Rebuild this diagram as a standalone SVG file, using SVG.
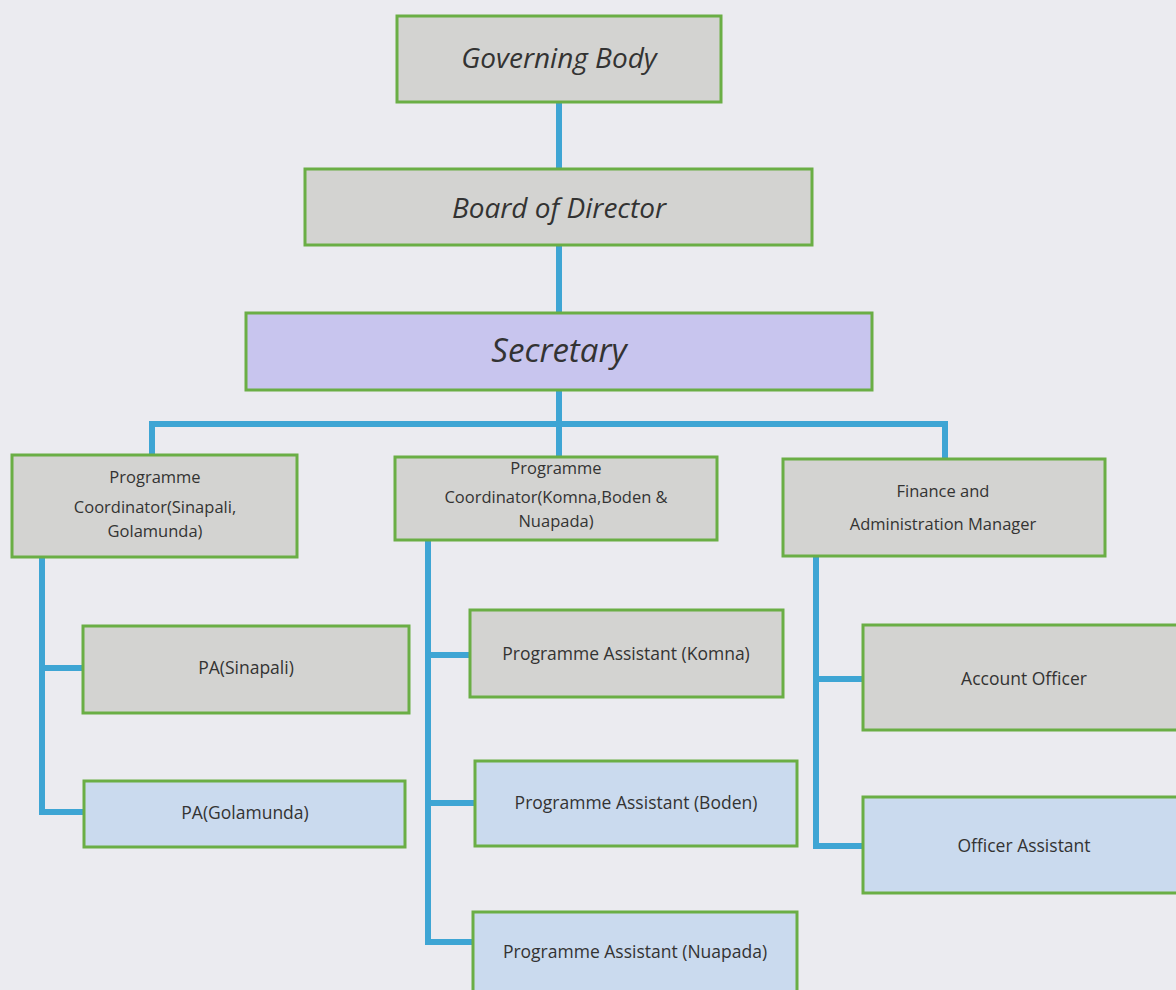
<svg xmlns="http://www.w3.org/2000/svg" width="1176" height="990" viewBox="0 0 1176 990">
<style>
.bg{fill:#ebebf0}
.box{stroke:#6aae45;stroke-width:3}
.gray{fill:#d3d3d1}
.blue{fill:#cadaee}
.lav{fill:#c8c5ee}
.conn{stroke:#3ea5d4;stroke-width:6;fill:none;stroke-linecap:square}
.t{font-family:"Open Sans","Liberation Sans",sans-serif;fill:#333;text-anchor:middle}
.big{font-size:28px;font-style:italic}
.sec{font-size:33px;font-style:italic}
.sm{font-size:17.5px}
.pc{font-size:16.5px}
</style>
<rect class="bg" x="0" y="0" width="1176" height="990"/>
<g id="connectors">
<path class="conn" d="M559 102V169M559 245V313M559 390V455"/>
<path class="conn" d="M152 455V424H945V459"/>
<path class="conn" d="M42 557V812H84M42 668H83"/>
<path class="conn" d="M428 540V942H473M428 655H470M428 803H475"/>
<path class="conn" d="M816 556V846H863M816 679H863"/>
</g>
<g id="governing-body"><rect class="box gray" x="397" y="16" width="324" height="86"/><text class="t big" x="559" y="68">Governing Body</text></g>
<g id="board"><rect class="box gray" x="305" y="169" width="507" height="76"/><text class="t big" x="559" y="218">Board of Director</text></g>
<g id="secretary"><rect class="box lav" x="246" y="313" width="626" height="77"/><text class="t sec" x="559" y="362">Secretary</text></g>
<g id="pc1"><rect class="box gray" x="12" y="455" width="285" height="102"/><text class="t pc" x="155" y="483">Programme</text><text class="t pc" x="155" y="513">Coordinator(Sinapali,</text><text class="t pc" x="155" y="537">Golamunda)</text></g>
<g id="pc2"><rect class="box gray" x="395" y="457" width="322" height="83"/><text class="t pc" x="556" y="474">Programme</text><text class="t pc" x="556" y="503">Coordinator(Komna,Boden &amp;</text><text class="t pc" x="556" y="527">Nuapada)</text></g>
<g id="pc3"><rect class="box gray" x="783" y="459" width="322" height="97"/><text class="t pc" x="943" y="497">Finance and</text><text class="t pc" x="943" y="530">Administration Manager</text></g>
<g id="pa-sinapali"><rect class="box gray" x="83" y="626" width="326" height="87"/><text class="t sm" x="246" y="674">PA(Sinapali)</text></g>
<g id="pa-golamunda"><rect class="box blue" x="84" y="781" width="321" height="66"/><text class="t sm" x="245" y="819">PA(Golamunda)</text></g>
<g id="pa-komna"><rect class="box gray" x="470" y="610" width="313" height="87"/><text class="t sm" x="626" y="660">Programme Assistant (Komna)</text></g>
<g id="pa-boden"><rect class="box blue" x="475" y="761" width="322" height="85"/><text class="t sm" x="636" y="809">Programme Assistant (Boden)</text></g>
<g id="pa-nuapada"><rect class="box blue" x="473" y="912" width="324" height="82"/><text class="t sm" x="635" y="958">Programme Assistant (Nuapada)</text></g>
<g id="account-officer"><rect class="box gray" x="863" y="625" width="320" height="105"/><text class="t sm" x="1024" y="685">Account Officer</text></g>
<g id="officer-assistant"><rect class="box blue" x="863" y="797" width="320" height="96"/><text class="t sm" x="1024" y="852">Officer Assistant</text></g>
</svg>
